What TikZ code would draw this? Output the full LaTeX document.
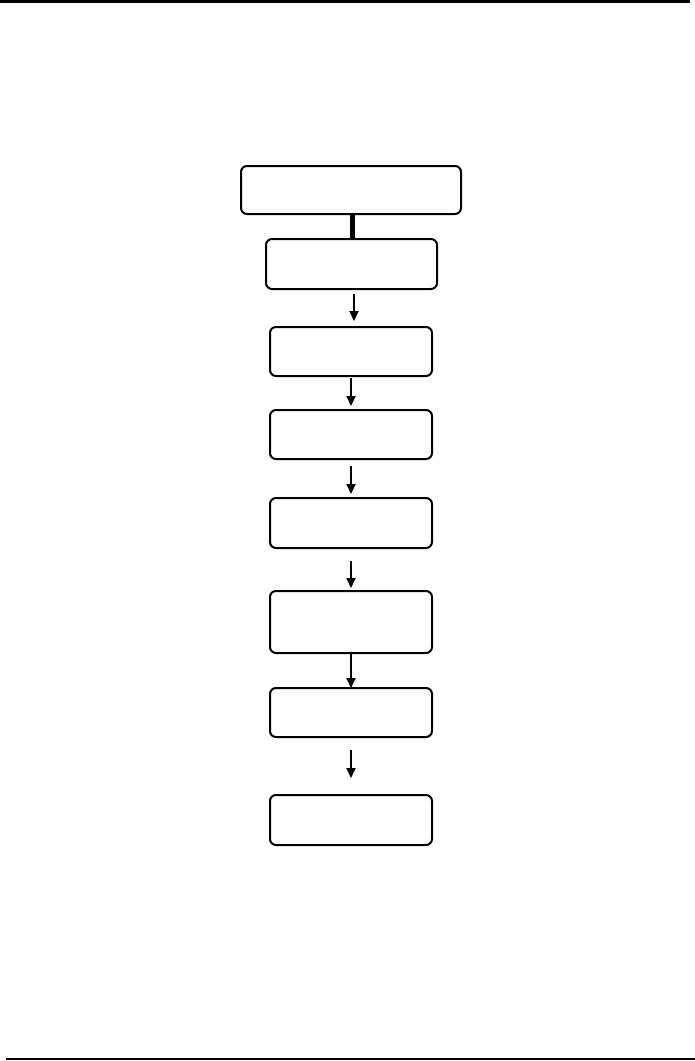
\documentclass[tikz,border=0pt]{standalone}
\usetikzlibrary{arrows.meta}
\begin{document}
\begin{tikzpicture}[x=1pt,y=-1pt,
  flowbox/.style={draw=black,line width=2pt,rounded corners=6pt,fill=white},
  flowarrow/.style={draw=black,line width=1.8pt,-{Triangle[length=10pt,width=9pt]}},
  rule/.style={draw=black}]
\useasboundingbox (0,0) rectangle (695,1061);
\fill[white] (0,0) rectangle (695,1061);
% rules
\coordinate (tl) at (0,1.5);
\coordinate (tr) at (690,1.5);
\coordinate (bl) at (6,1059);
\coordinate (br) at (695,1059);
\draw[rule,line width=3pt] (tl) -- (tr);
\draw[rule,line width=2.5pt] (bl) -- (br);
% boxes
\node[flowbox,minimum width=220pt,minimum height=48pt] (b1) at (351,190) {};
\node[flowbox,minimum width=171pt,minimum height=50pt] (b2) at (351.5,264) {};
\node[flowbox,minimum width=162pt,minimum height=49pt] (b3) at (351,351.5) {};
\node[flowbox,minimum width=162pt,minimum height=49pt] (b4) at (351,434.5) {};
\node[flowbox,minimum width=162pt,minimum height=50pt] (b5) at (351,523) {};
\node[flowbox,minimum width=162pt,minimum height=62pt] (b6) at (351,622) {};
\node[flowbox,minimum width=162pt,minimum height=49pt] (b7) at (351,712.5) {};
\node[flowbox,minimum width=162pt,minimum height=50pt] (b8) at (351,820) {};
% thick connector
\draw[line width=5pt] (b1.south) ++(1,0) coordinate (c1s) -- (c1s |- b2.north);
% free arrows
\coordinate (a1s) at (354,294); \coordinate (a1e) at (354,321);
\coordinate (a2s) at (351,378); \coordinate (a2e) at (351,406);
\coordinate (a3s) at (351,466); \coordinate (a3e) at (351,494);
\coordinate (a4s) at (351,561); \coordinate (a4e) at (351,588);
\coordinate (a6s) at (351,750); \coordinate (a6e) at (351,778);
\draw[flowarrow] (a1s) -- (a1e);
\draw[flowarrow] (a2s) -- (a2e);
\draw[flowarrow] (a3s) -- (a3e);
\draw[flowarrow] (a4s) -- (a4e);
\draw[flowarrow] (b6.south) -- ([yshift=-1pt]b7.north);
\draw[flowarrow] (a6s) -- (a6e);
\end{tikzpicture}
\end{document}
